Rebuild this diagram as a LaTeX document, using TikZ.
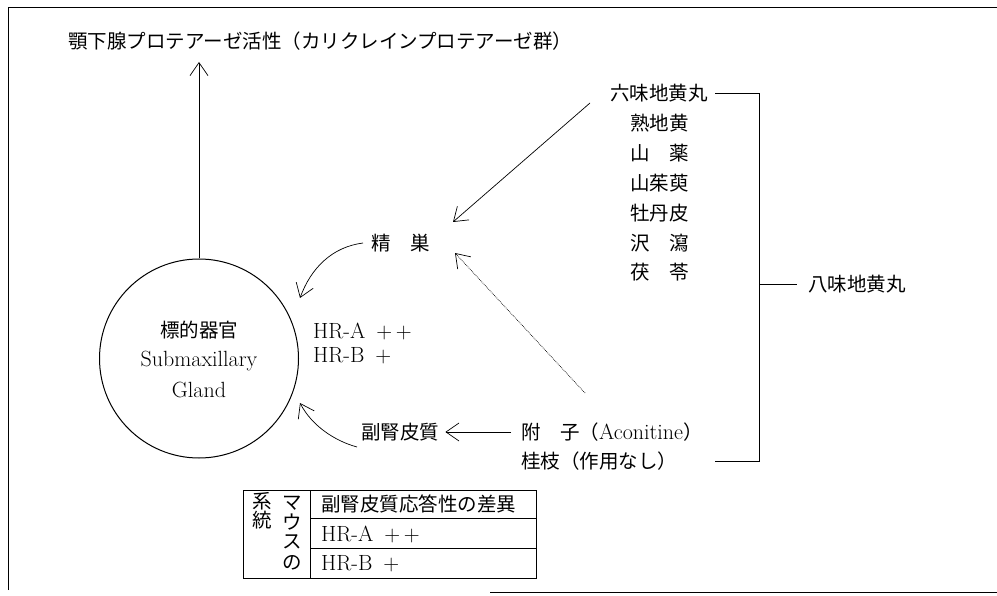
\documentclass[tikz,border=0pt]{standalone}
\usepackage{fontspec}
\newfontfamily\jpf{Noto Sans CJK JP}
\usetikzlibrary{arrows.meta}
\begin{document}
\begin{tikzpicture}[x=1pt,y=-1pt,
  jp/.style={font=\fontsize{19.5}{19.5}\selectfont\jpf, inner sep=0pt, anchor=west},
  lt/.style={font=\fontsize{22}{22}\selectfont, inner sep=0pt, anchor=west},
  ctr/.style={font=\fontsize{22}{22}\selectfont\addfontfeatures{LetterSpace=2}, inner sep=0pt},
  thin/.style={line width=0.8pt},
  tip/.style={-{Straight Barb[length=13pt,width=18pt,line width=0.7pt]}},
  arr/.style={line width=0.7pt, tip},
  darr/.style={line width=0.7pt, densely dotted, tip}]
\useasboundingbox (0,0) rectangle (997,596);
% frame
\draw[thin] (8,590) -- (8,7) -- (997,7);
\draw[thin] (490,592) -- (997,592);
% title
\node[jp] (title) at (68,41) {顎下腺プロテアーゼ活性（カリクレインプロテアーゼ群）};
% organ
\node[draw, circle, minimum size=199pt, line width=1pt, inner sep=0pt] (organ) at (199,358.5) {};
\node[font=\fontsize{19.5}{19.5}\selectfont\jpf, inner sep=0pt] (organjp) at (199,330) {標的器官};
\node[ctr] (sub) at (199,361) {Submaxillary};
\node[ctr] (gland) at (199,390) {Gland};
\coordinate (uptip) at (199,62);
\draw[arr] (organ.north) -- (uptip);
% HR labels
\node[lt] (hra) at (313,331) {HR{-}A\enspace+\,+};
\node[lt] (hrb) at (313,356) {HR{-}B\enspace+};
% testis
\node[jp] (testis) at (371,243) {精　巣};
\coordinate (t1) at (300,298);
\draw[arr] ([xshift=-8pt]testis.west) .. controls (332,247) and (311,268) .. (t1);
% adrenal
\node[jp] (adrenal) at (361,432) {副腎皮質};
\node[jp] (bushi) at (521,432) {附　子（{\normalfont\fontsize{22}{22}\selectfont Aconitine}）};
\node[jp] (keishi) at (521,461) {桂枝（作用なし）};
\draw[arr, shorten <=10pt, shorten >=6pt] (bushi.west) -- (adrenal.east);
\coordinate (a0) at (357,447);
\coordinate (a1) at (300,403);
\draw[arr] (a0) .. controls (335,441) and (312,426) .. (a1);
% rokumi
\node[jp] (rokumi) at (610,93) {六味地黄丸};
\node[jp] (i1) at (630,123) {熟地黄};
\node[jp] (i2) at (630,153) {山　薬};
\node[jp] (i3) at (630,183) {山茱萸};
\node[jp] (i4) at (630,213) {牡丹皮};
\node[jp] (i5) at (630,243) {沢　瀉};
\node[jp] (i6) at (630,272) {茯　苓};
\coordinate (r0) at (590,103);
\coordinate (r1) at (453,222);
\draw[arr] (r0) -- (r1);
\coordinate (d0) at (585,393);
\coordinate (d1) at (455,253);
\draw[darr] (d0) -- (d1);
% bracket
\coordinate (b1) at (715,93);
\coordinate (b2) at (759,93);
\coordinate (b3) at (759,461);
\coordinate (b4) at (715,461);
\coordinate (bm) at (759,284);
\draw[thin] (b1) -- (b2) -- (b3) -- (b4);
\node[jp] (hachimi) at (808,284) {八味地黄丸};
\draw[thin] (bm) -- ([xshift=-11pt]hachimi.west);
% table
\draw[thin] (243,490) rectangle (536,578);
\draw[thin] (310,490) -- (310,578);
\draw[thin] (310,518) -- (536,518);
\draw[thin] (310,548) -- (536,548);
\node[jp, anchor=center] (k1) at (262,501) {系};
\node[jp, anchor=center] (k2) at (262,520) {統};
\node[jp, anchor=center] (m1) at (292,503) {マ};
\node[jp, anchor=center] (m2) at (292,522) {ウ};
\node[jp, anchor=center] (m3) at (292,542) {ス};
\node[jp, anchor=center] (m4) at (292,563) {の};
\node[jp] (head) at (321,504) {副腎皮質応答性の差異};
\node[lt] (ta) at (321,534) {HR{-}A\enspace+\,+};
\node[lt] (tb) at (321,564) {HR{-}B\enspace+};
\end{tikzpicture}
\end{document}
